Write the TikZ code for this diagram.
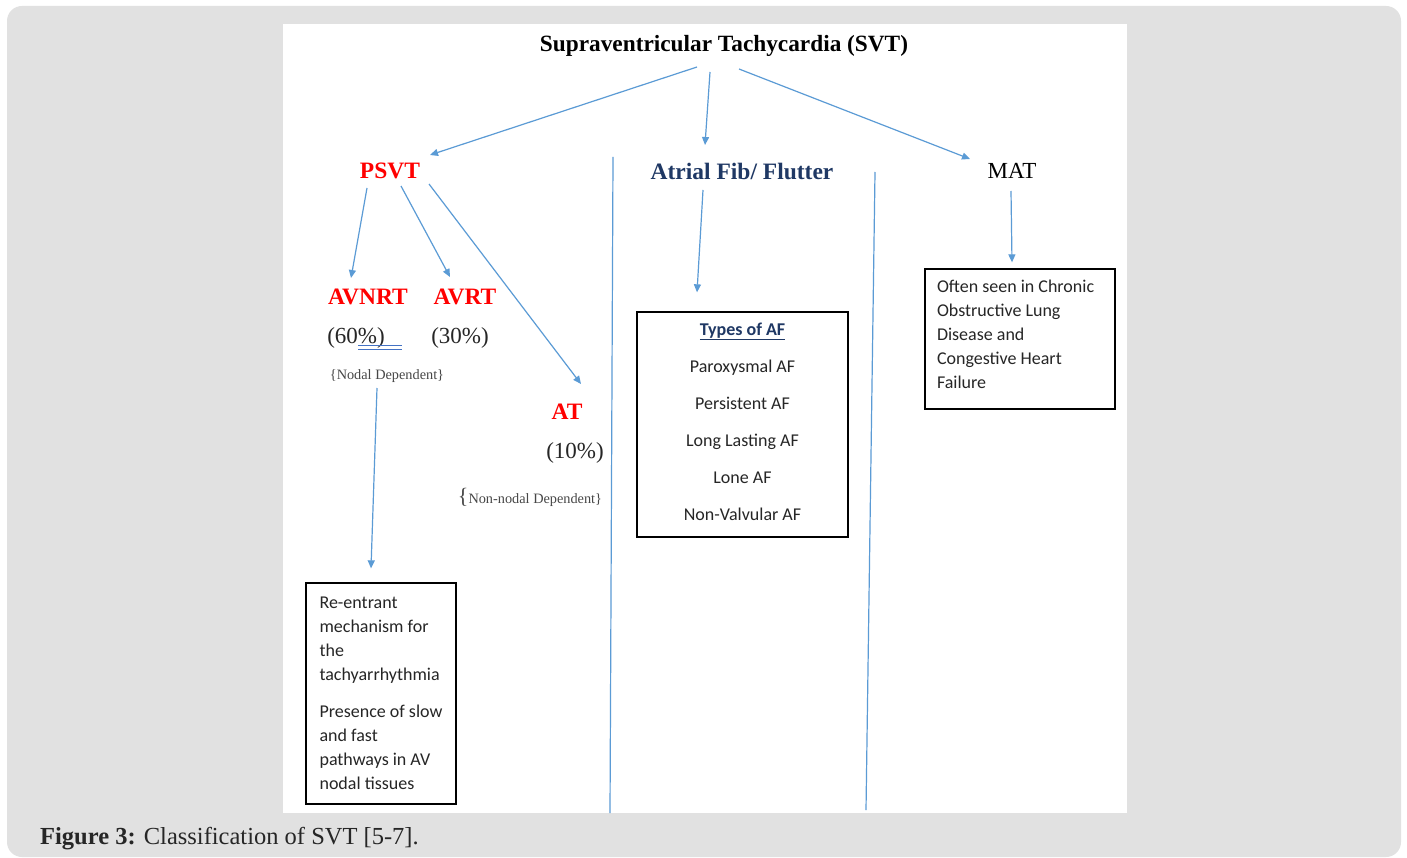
\documentclass[tikz,border=0pt]{standalone}
\usepackage{fontspec}
\setmainfont{Liberation Serif}
\newfontfamily\calibri{Carlito}
\usetikzlibrary{arrows.meta,calc}
\definecolor{bg}{HTML}{E1E1E1}
\definecolor{arrblue}{HTML}{5B9BD5}
\definecolor{navy}{HTML}{1F3864}
\definecolor{redl}{HTML}{FF0000}
\definecolor{txt}{HTML}{262626}
\definecolor{ulblue}{HTML}{4472C4}
\begin{document}
\begin{tikzpicture}[x=1pt,y=-1pt,
 arr/.style={draw=arrblue, line width=1.2pt, -{Triangle[length=8pt,width=7pt]}},
 sep/.style={draw=arrblue, line width=1.2pt},
 big/.style={font=\fontsize{23.5}{28}\selectfont\bfseries, inner sep=1pt},
 redlab/.style={big, text=redl},
 pct/.style={font=\fontsize{23}{27}\selectfont, text=txt, inner sep=1pt},
 small/.style={font=\fontsize{14.3}{16}\selectfont, text=txt!85, inner sep=1pt},
 box/.style={draw=black, line width=1.3pt, fill=white, inner sep=0pt, font=\calibri\fontsize{18}{24}\selectfont, text=txt, align=left}
]
\useasboundingbox (0,0) rectangle (1407,858);
\fill[white] (0,0) rectangle (1407,858);
\fill[bg, rounded corners=15pt] (7,6) rectangle (1401,857);
\fill[white] (283,24) rectangle (1127,813);

% labels
\node[big, font=\fontsize{23.3}{28}\selectfont\bfseries] (title) at (724,46) {Supraventricular Tachycardia (SVT)};
\node[redlab] (psvt) at (390,171) {PSVT};
\node[big, text=navy] (af) at (742,171) {Atrial Fib/ Flutter};
\node[pct, text=black] (mat) at (1012,171) {MAT};
\node[redlab] (avnrt) at (368,297) {AVNRT};
\node[redlab] (avrt) at (465,297) {AVRT};
\node[pct] (p60) at (356,338) {(60\%)};
\node[pct] (p30) at (460,338) {(30\%)};
\node[small] (nodal) at (387,376) {\{Nodal Dependent\}};
\node[redlab] (at) at (567,412) {AT};
\node[pct] (p10) at (575,453) {(10\%)};
\node[small] (nonnodal) at (530,497) {{\fontsize{22}{22}\selectfont\{}Non-nodal Dependent\}};

% boxes
\node[box, minimum width=150, minimum height=221] (box1) at (381,693.5)
 {Re-entrant\\mechanism for\\the\\tachyarrhythmia\\[13pt]Presence of slow\\and fast\\pathways in AV\\nodal tissues};
\node[box, minimum width=211, minimum height=225] (afbox) at (742.5,424.5)
 {\parbox[c][204pt][t]{211pt}{\centering\calibri\fontsize{18}{37}\selectfont
 {\bfseries\color{navy}\underline{Types of AF}}\\Paroxysmal AF\\Persistent AF\\Long Lasting AF\\Lone AF\\Non-Valvular AF}};
\node[box, minimum width=190, minimum height=140] (matbox) at (1020,339)
 {\parbox[c][117pt][t]{166pt}{\raggedright\calibri\fontsize{18}{24}\selectfont
 Often seen in Chronic\\Obstructive Lung\\Disease and\\Congestive Heart\\Failure}};

% double underline
\draw[ulblue, line width=0.9pt] (358,345.5) -- (402,345.5) (358,349) -- (402,349);

% arrows
\draw[arr] ($(title)+(-27,21)$) -- ($(psvt)+(40,-16)$);
\draw[arr] ($(title)+(-14,26)$) -- ($(af)+(-37,-26)$);
\draw[arr] ($(title)+(15,23)$) -- ($(mat)+(-42,-12)$);
\draw[arr] ($(psvt)+(-23,17)$) -- ($(avnrt)+(-17,-19)$);
\draw[arr] ($(psvt)+(11,15)$) -- ($(avrt)+(-15,-20)$);
\draw[arr] ($(psvt)+(39,13)$) -- ($(at)+(14,-28)$);
\draw[arr] ($(nodal)+(-10,12)$) -- ($(box1.north)+(-10,-14)$);
\draw[arr] ($(af)+(-39,19)$) -- ($(afbox.north)+(-45.5,-19)$);
\draw[arr] ($(mat)+(-1,20)$) -- ($(matbox.north)+(-8,-6)$);

% separators
\coordinate (s1a) at (613,157); \coordinate (s1b) at (610,813);
\coordinate (s2a) at (875,172); \coordinate (s2b) at (866,810);
\draw[sep] (s1a) -- (s1b);
\draw[sep] (s2a) -- (s2b);

% caption
\node[anchor=west, font=\fontsize{24.5}{27}\selectfont, text=txt, inner sep=0pt] (cap) at (40,839)
 {\textbf{Figure 3:} Classification of SVT [5-7].};
\end{tikzpicture}
\end{document}
